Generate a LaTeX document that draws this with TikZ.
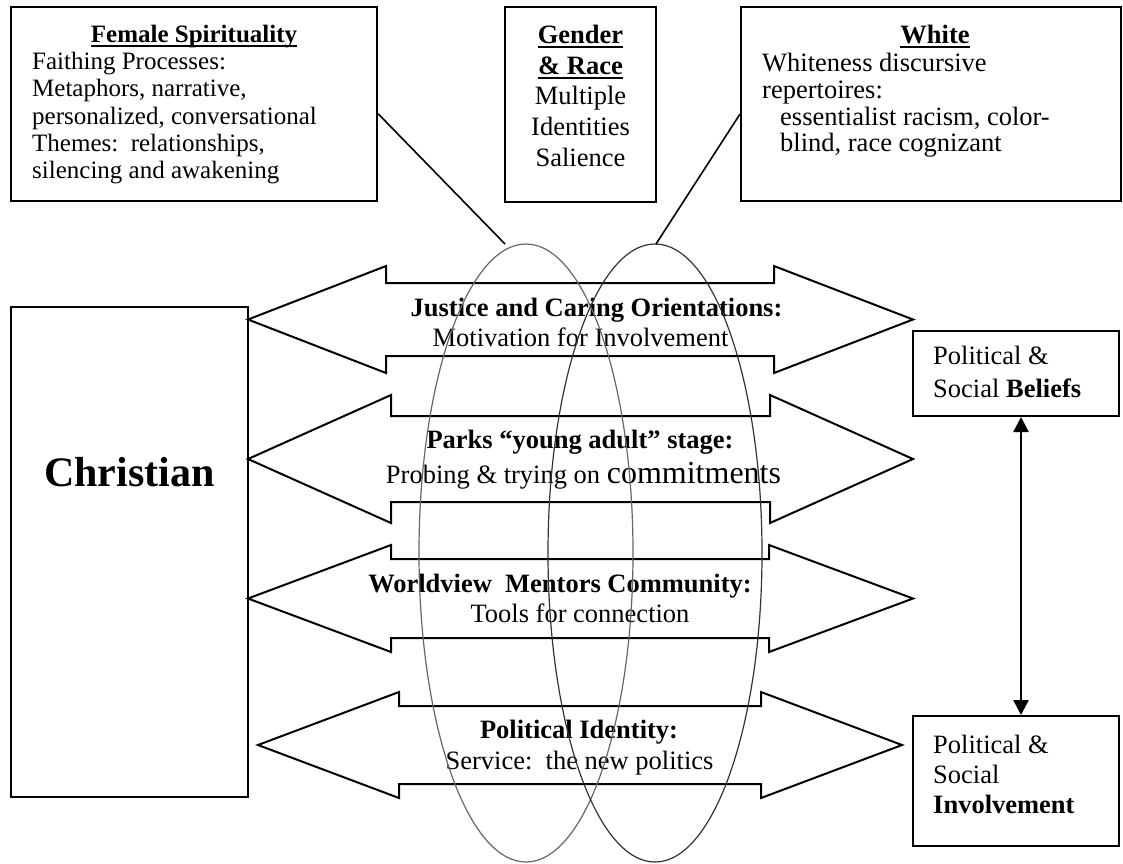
\documentclass[tikz,border=0pt]{standalone}
\usepackage{fontspec}
\setmainfont{Liberation Serif}
\usepackage{tikz}
\usetikzlibrary{arrows.meta}
\tikzset{
  every picture/.style={line join=miter, >=Stealth},
  frame/.style={draw, line width=2pt, inner sep=0pt},
  txt/.style={inner sep=0pt, font=\fontsize{26.5}{30}\selectfont},
  blockarrow/.style={draw, line width=2pt, line join=miter},
  ring/.style={line width=1.2pt},
  link/.style={line width=1.6pt},
}
\newcommand\uln[1]{\setbox0\hbox{#1}\rlap{\rule[-4.5pt]{\wd0}{1.8pt}}\box0}

\begin{document}
\begin{tikzpicture}[x=1pt, y=-1pt]
\useasboundingbox (0,0) rectangle (1123,863);
% top boxes (multi-line texts sit on the baseline of their last line)
\node[frame, minimum width=366, minimum height=194] (fs) at (194,104) {};
\node[frame, minimum width=151, minimum height=195] (gr) at (580.5,104.5) {};
\node[frame, minimum width=380, minimum height=194] (wh) at (931,104) {};
\node[txt, anchor=base, font=\fontsize{25}{27.3}\selectfont\bfseries] (fsT) at (194,42.7) {\uln{Female Spirituality}};
\begin{scope}
  \clip (11,7) rectangle (377,186);
  \node[txt, anchor=base west, align=left, font=\fontsize{25}{27.3}\selectfont] (fsB) at (32,178.7)
    {Faithing Processes:\\ Metaphors, narrative,\\ personalized, conversational\\ Themes:\ \ relationships,\\ silencing and awakening};
\end{scope}
\node[txt, anchor=base, align=center, font=\fontsize{26.5}{30.7}\selectfont] (grT) at (580.5,166.1)
  {\bfseries\uln{Gender}\\ \bfseries\uln{\&~Race}\\ Multiple\\ Identities\\ Salience};
\node[txt, anchor=base, font=\fontsize{26.5}{30}\selectfont\bfseries] (whT) at (935,43.3) {\uln{White}};
\node[txt, anchor=base west, align=left, font=\fontsize{26.5}{26.7}\selectfont] (whB) at (762,151.8)
  {Whiteness discursive\\ repertoires:\\ \hspace*{18pt}essentialist racism, color-\\ \hspace*{18pt}blind, race cognizant};
% side boxes
\node[frame, minimum width=237, minimum height=490] (ch) at (129.5,552) {};
\node[txt, anchor=base, font=\fontsize{42}{48}\selectfont\bfseries] (chT) at (129.5,486) {Christian};
\node[frame, minimum width=206, minimum height=85] (bl) at (1016,373.5) {};
\node[frame, minimum width=206, minimum height=130] (iv) at (1016,781) {};
\node[txt, anchor=base west, align=left, font=\fontsize{26.5}{33}\selectfont] (blT) at (933,397)
  {Political \&\\ Social \textbf{Beliefs}};
\node[txt, anchor=base west, align=left, font=\fontsize{26.5}{30}\selectfont] (ivT) at (933,813)
  {Political \&\\ Social\\ \textbf{Involvement}};
\draw[<->, line width=2.5pt, >={Triangle[length=15pt,width=15pt]}] ([xshift=5pt]bl.south) -- ([xshift=5pt]iv.north);
% block arrows
\foreach \tl/\bl/\br/\tr/\yc/\hh/\sh in {248/386/774/913/319.5/53.5/36.5, 248/391/770/913/459/64/43,
    248/391/769/913/598.5/53.5/39.5, 258/399/761/902/745/53/39}
  \draw[blockarrow] (\tl,\yc) -- (\bl,\yc-\hh) -- (\bl,\yc-\sh) -- (\br,\yc-\sh) -- (\br,\yc-\hh) -- (\tr,\yc)
    -- (\br,\yc+\hh) -- (\br,\yc+\sh) -- (\bl,\yc+\sh) -- (\bl,\yc+\hh) -- cycle;
\node[txt, anchor=base, font=\fontsize{26.5}{30}\selectfont\bfseries] (a1t) at (596.5,316) {Justice and Caring Orientations:};
\node[txt, anchor=base] (a1s) at (580.5,346) {Motivation for Involvement};
\node[txt, anchor=base, font=\fontsize{26.5}{30}\selectfont\bfseries] (a2t) at (580,448.5) {Parks “young adult” stage:};
\node[txt, anchor=base] (a2s) at (583.5,483.5) {Probing \& trying on {\fontsize{32}{36}\selectfont commitments}};
\node[txt, anchor=base, font=\fontsize{26.5}{30}\selectfont\bfseries] (a3t) at (560,592) {Worldview\ \ Mentors Community:};
\node[txt, anchor=base] (a3s) at (580,622) {Tools for connection};
\node[txt, anchor=base, font=\fontsize{26.5}{30}\selectfont\bfseries] (a4t) at (579,738.5) {Political Identity:};
\node[txt, anchor=base] (a4s) at (579.5,769.5) {Service:\ \ the new politics};
% overlapping ellipses
\draw[ring, black!60] (526,553) ellipse [x radius=107, y radius=309];
\draw[ring, black!80] (655,553) ellipse [x radius=107, y radius=309];
\coordinate (e1top) at (505,244);
\coordinate (e2top) at (656,244);
\draw[link] (fs.-3) -- (e1top);
\draw[link] (wh.183) -- (e2top);
\end{tikzpicture}
\end{document}
